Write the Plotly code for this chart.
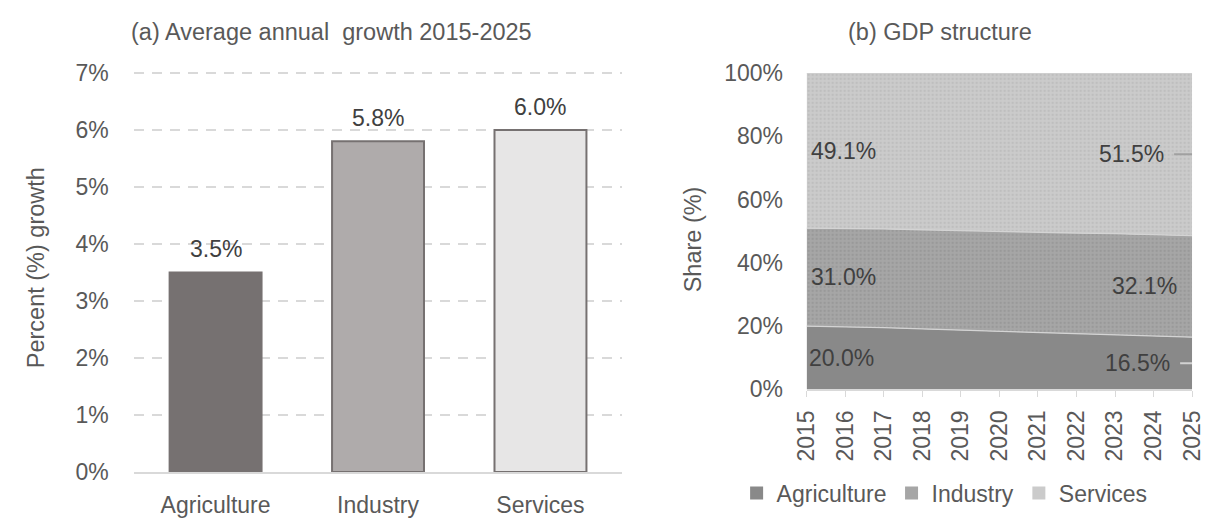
import plotly.graph_objects as go

# Panel (a): average annual growth by sector, 2015-2025
sectors = ["Agriculture", "Industry", "Services"]
growth = [3.5, 5.8, 6.0]
bar_colors = ["#767171", "#AFABAB", "#E7E6E6"]
growth_ticks = [0, 1, 2, 3, 4, 5, 6, 7]

# Panel (b): GDP structure by sector (%)
years = [2015, 2016, 2017, 2018, 2019, 2020, 2021, 2022, 2023, 2024, 2025]
agriculture = [20.0, 19.8, 19.5, 19.1, 18.7, 18.4, 18.1, 17.7, 17.3, 16.9, 16.5]
industry = [31.0, 31.1, 31.2, 31.3, 31.4, 31.5, 31.6, 31.7, 31.9, 32.0, 32.1]
services = [49.1, 49.1, 49.3, 49.6, 49.9, 50.1, 50.3, 50.6, 50.8, 51.1, 51.5]
area_colors = ["#898989", "#A6A6A6", "#CBCBCB"]
pattern_fg = ["#898989", "#999999", "#BEBEBE"]

FONT = "Liberation Sans, Arial, sans-serif"
TXT = "#595959"
W, H = 1213, 525

fig = go.Figure()

fig.add_trace(go.Bar(
    x=sectors, y=growth,
    marker=dict(color=bar_colors, line=dict(color="#767171", width=2)),
    showlegend=False,
    xaxis="x", yaxis="y",
))

series = [("Agriculture", agriculture), ("Industry", industry), ("Services", services)]
for (name, vals), col, fg in zip(series, area_colors, pattern_fg):
    fig.add_trace(go.Scatter(
        x=years, y=vals, name=name,
        mode="lines", stackgroup="gdp", groupnorm="percent",
        line=dict(color="#D4D4D4", width=1.2),
        fillcolor=col,
        fillpattern=dict(shape=".", size=4, solidity=0.25, fgcolor=fg,
                         bgcolor=col, fillmode="replace"),
        showlegend=False,
        xaxis="x2", yaxis="y2",
    ))
    # legend swatch
    fig.add_trace(go.Scatter(
        x=[None], y=[None], name=name, mode="markers",
        marker=dict(symbol="square", size=13, color=col),
        xaxis="x2", yaxis="y2",
    ))

annotations = []
shapes = []

# Value labels above the growth bars
for s, v in zip(sectors, growth):
    annotations.append(dict(
        x=s, y=v, xref="x", yref="y", text=f"{v:.1f}%",
        xanchor="center", yanchor="bottom", yshift=8, showarrow=False,
        font=dict(family=FONT, size=23, color="#404040")))

# Band labels at the middle of each band, first and last year
n = len(years)
leader_len = {0: 12, 2: 18}   # px length of leader lines on the last year
label_gap = {0: 20, 1: 13, 2: 26}
leader_col = {0: "#D2D2D2", 2: "#A0A0A0"}
for idx in (0, n - 1):
    total = agriculture[idx] + industry[idx] + services[idx]
    base = 0.0
    for j, (name, vals) in enumerate(series):
        v = vals[idx]
        mid = (base + v / 2) / total * 100
        base += v
        a = dict(x=years[idx], y=mid, xref="x2", yref="y2", yanchor="middle",
                 text=f"{v:.1f}%", font=dict(family=FONT, size=23, color="#404040"),
                 showarrow=False)
        if idx == 0:
            a.update(xanchor="left", xshift=0 if j == 0 else 2)
        else:
            a.update(xanchor="right", xshift=-label_gap[j])
            if j in leader_len:
                shapes.append(dict(
                    type="line", xref="x2", yref="y2", layer="above",
                    xsizemode="pixel", xanchor=years[idx],
                    x0=-leader_len[j], x1=0, y0=mid, y1=mid,
                    line=dict(color=leader_col[j], width=2)))
        annotations.append(a)

title_font = dict(family=FONT, size=23.5, color=TXT)
annotations += [
    dict(text="(a) Average annual  growth 2015-2025", x=324 / W, y=1 - 20 / H,
         xref="paper", yref="paper", xanchor="center", yanchor="middle",
         showarrow=False, font=title_font),
    dict(text="(b) GDP structure", x=946 / W, y=1 - 20 / H,
         xref="paper", yref="paper", xanchor="center", yanchor="middle",
         showarrow=False, font=title_font),
    dict(text="Percent (%) growth", x=22 / W, y=1 - 268 / H, textangle=-90,
         xref="paper", yref="paper", xanchor="center", yanchor="middle",
         showarrow=False, font=title_font),
    dict(text="Share (%)", x=694 / W, y=1 - 238 / H, textangle=-90,
         xref="paper", yref="paper", xanchor="center", yanchor="middle",
         showarrow=False, font=title_font),
]

tickfont = dict(family=FONT, size=23, color=TXT)

# growth axis: 0 at y=483px, 7 at y=63px, range padded so the top gridline draws
g_top = 7.03
px_per_unit = (483 - 63) / 7
top_px = 483 - g_top * px_per_unit

fig.update_layout(
    width=W, height=H,
    margin=dict(l=0, r=0, t=0, b=0),
    paper_bgcolor="white", plot_bgcolor="white",
    font=dict(family=FONT, size=23, color=TXT),
    bargap=0.434,
    annotations=annotations,
    shapes=shapes,
    xaxis=dict(domain=[123 / W, 621 / W], anchor="y",
               showline=True, linecolor="#D9D9D9", linewidth=1.5,
               ticks="outside", ticklen=12, tickcolor="rgba(0,0,0,0)",
               tickfont=tickfont, showgrid=False),
    yaxis=dict(domain=[(H - 483) / H, (H - top_px) / H], anchor="x",
               range=[0, g_top], tickvals=growth_ticks,
               ticktext=[f"{t}%" for t in growth_ticks],
               showgrid=True, gridcolor="#D9D9D9", gridwidth=1.5,
               griddash="10px,8px", zeroline=False, showline=False,
               ticks="outside", ticklen=20, tickcolor="rgba(0,0,0,0)",
               tickfont=tickfont),
    xaxis2=dict(domain=[810 / W, 1204 / W], anchor="y2",
                range=[2015, 2025.002], tickvals=years, tickangle=-90,
                showline=True, linecolor="#D9D9D9", linewidth=1.5,
                ticks="outside", ticklen=6, tickcolor="#D9D9D9",
                ticklabelstandoff=4, ticklabeloverflow="allow",
                tickfont=tickfont, showgrid=False, zeroline=False),
    yaxis2=dict(domain=[129 / H, 462 / H], anchor="x2",
                range=[0, 100], dtick=20, ticksuffix="%",
                showgrid=False, zeroline=False, showline=False,
                ticks="outside", ticklen=18, tickcolor="rgba(0,0,0,0)",
                tickfont=tickfont),
    legend=dict(orientation="h", x=951 / W, xanchor="center",
                y=20 / H, yanchor="middle", traceorder="normal",
                font=dict(family=FONT, size=23, color=TXT),
                itemwidth=30, bgcolor="rgba(0,0,0,0)"),
)

fig.write_html("out.html")
